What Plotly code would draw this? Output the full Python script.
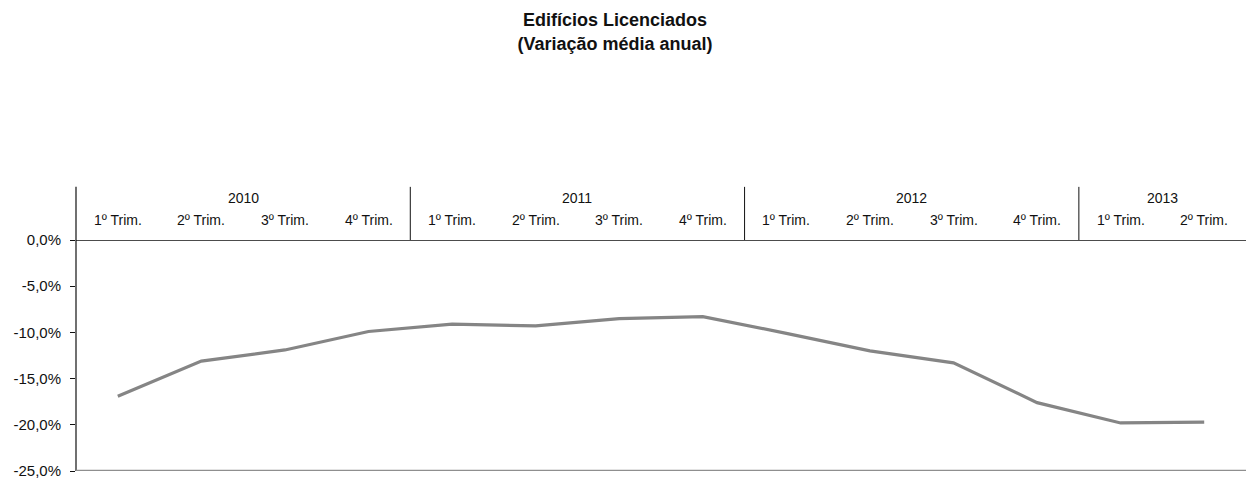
import plotly.graph_objects as go

# Quarterly average annual change of licensed buildings (%)
quarters = ["1º Trim.", "2º Trim.", "3º Trim.", "4º Trim.",
            "1º Trim.", "2º Trim.", "3º Trim.", "4º Trim.",
            "1º Trim.", "2º Trim.", "3º Trim.", "4º Trim.",
            "1º Trim.", "2º Trim."]
years = ["2010", "2011", "2012", "2013"]
quarters_per_year = [4, 4, 4, 2]
values = [-16.9, -13.1, -11.9, -9.9,
          -9.1, -9.3, -8.5, -8.3,
          -10.1, -12.0, -13.3, -17.6,
          -19.8, -19.7]
y_ticks = [0, -5, -10, -15, -20, -25]
y_labels = ["0,0%", "-5,0%", "-10,0%", "-15,0%", "-20,0%", "-25,0%"]

x_idx = list(range(len(values)))
font_main = "Liberation Sans, Arial, sans-serif"

fig = go.Figure()
fig.add_trace(go.Scatter(
    x=x_idx, y=values, mode="lines",
    line=dict(color="#858585", width=3.2),
    hoverinfo="skip", showlegend=False,
))

shapes = []
annotations = []

# Quarter labels in the header band
for i, q in enumerate(quarters):
    annotations.append(dict(
        x=i, y=1.0, xref="x", yref="paper", yshift=20,
        text=q, showarrow=False, xanchor="center", yanchor="middle",
        font=dict(family=font_main, size=14, color="#111111"),
    ))

# Year labels and year separators
start = 0
for yr, n in zip(years, quarters_per_year):
    mid = start + (n - 1) / 2
    annotations.append(dict(
        x=mid, y=1.0, xref="x", yref="paper", yshift=42,
        text=yr, showarrow=False, xanchor="center", yanchor="middle",
        font=dict(family=font_main, size=14, color="#111111"),
    ))
    if start > 0:
        shapes.append(dict(type="line", xref="x", yref="paper",
                           x0=start - 0.5, x1=start - 0.5, y0=1.0, y1=1.23,
                           line=dict(color="#111111", width=1)))
    start += n

# Left axis line extended up through the header band
shapes.append(dict(type="line", xref="paper", yref="paper",
                   x0=0, x1=0, y0=0, y1=1.23,
                   line=dict(color="#111111", width=1.2)))
# Zero line across the top
shapes.append(dict(type="line", xref="paper", yref="y",
                   x0=0, x1=1, y0=0, y1=0,
                   line=dict(color="#111111", width=1.5)))
# Bottom baseline
shapes.append(dict(type="line", xref="paper", yref="y",
                   x0=0, x1=1, y0=-25, y1=-25,
                   line=dict(color="#8f8f8f", width=2.5)))

fig.update_layout(
    width=1246, height=480,
    margin=dict(l=76, r=0, t=240, b=9),
    paper_bgcolor="white", plot_bgcolor="white",
    title=dict(
        text="<b>Edifícios Licenciados<br>(Variação média anual)</b>",
        x=615 / 1246, xanchor="center", y=0.945, yanchor="top",
        font=dict(family="Liberation Sans Narrow, Arial Narrow, Liberation Sans, sans-serif",
                  size=18, color="#111111"),
    ),
    xaxis=dict(range=[-0.5, len(values) - 0.5], showgrid=False, zeroline=False,
               showline=False, showticklabels=False, ticks=""),
    yaxis=dict(range=[-25, 0], tickmode="array", tickvals=y_ticks, ticktext=y_labels,
               showgrid=False, zeroline=False, showline=False,
               ticks="outside", ticklen=5, tickcolor="#111111", tickwidth=1,
               ticklabelstandoff=6,
               tickfont=dict(family=font_main, size=15, color="#111111")),
    shapes=shapes,
    annotations=annotations,
)

fig.write_html("out.html")
